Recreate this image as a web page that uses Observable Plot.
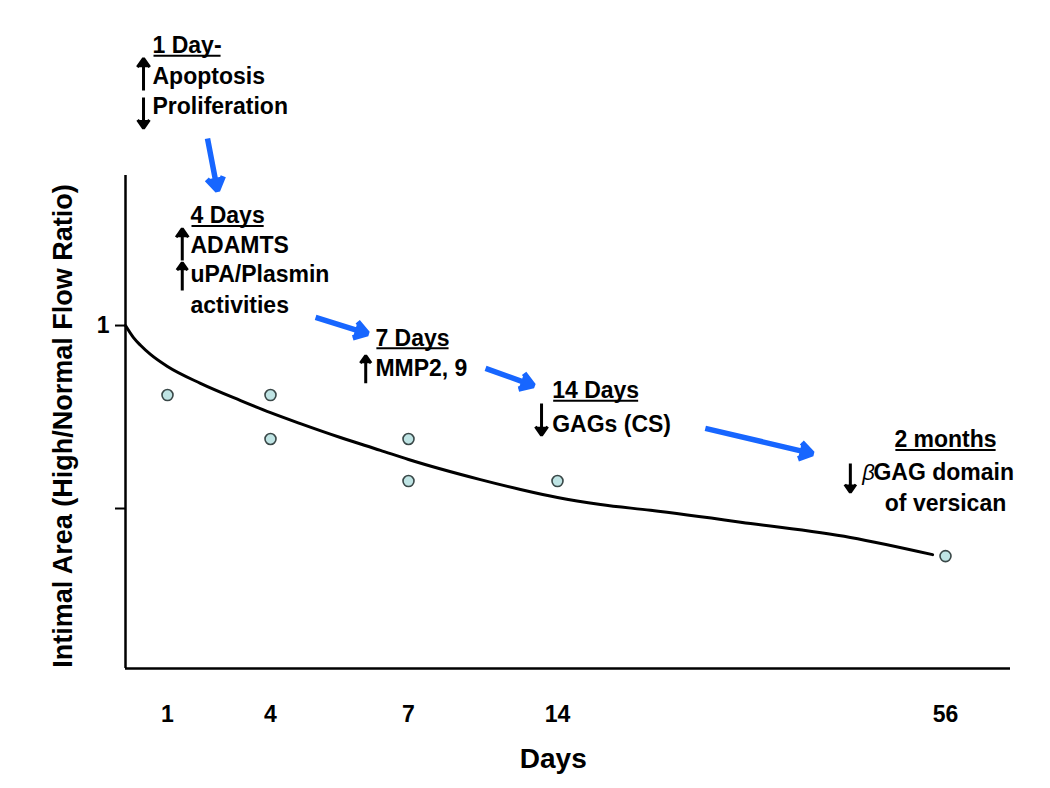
<!DOCTYPE html>
<html><head><meta charset="utf-8">
<script src="https://cdn.jsdelivr.net/npm/d3@7"></script>
<script src="https://cdn.jsdelivr.net/npm/@observablehq/plot@0.6"></script>
<style>body{margin:0;background:#fff}</style>
</head><body><div id="chart"></div>
<script>
// ---- data ----
const dayTicks = [1, 4, 7, 14, 56];
const obsDays  = [1, 4, 4, 7, 7, 14, 56];
const obsRatio = [0.81, 0.81, 0.69, 0.69, 0.575, 0.575, 0.37];
const fitDays  = [0, 0.19, 0.357, 0.595, 1, 1.96, 3.13, 4, 4.65, 5.52, 6.39, 7, 10.38, 12.26, 14, 18.65, 24.07, 34.9, 45.7, 54.6];
const fitRatio = [1.0, 0.967, 0.946, 0.921, 0.888, 0.842, 0.795, 0.762, 0.732, 0.694, 0.659, 0.634, 0.579, 0.552, 0.530, 0.511, 0.495, 0.459, 0.421, 0.374];
const ratioTicks = [0.5, 1];

// annotation texts and their anchors (day, ratio)
const headerText  = ["1 Day-", "4 Days", "7 Days", "14 Days"];
const headerDay   = [0.643, 1.67, 6.28, 13.75];
const headerRatio = [1.744, 1.279, 0.945, 0.801];
const bodyText  = ["Apoptosis", "Proliferation", "ADAMTS", "uPA/Plasmin", "activities", "MMP2, 9", "GAGs (CS)", "GAG domain"];
const bodyDay   = [0.643, 0.643, 1.67, 1.67, 1.67, 6.28, 13.75, 48.2];
const bodyRatio = [1.661, 1.579, 1.197, 1.118, 1.033, 0.861, 0.710, 0.577];
const centerText  = ["2 months", "of versican"];
const centerDay   = [56, 56];
const centerRatio = [0.667, 0.492];
const betaText = ["β"];
const betaDay = [47.0];
const betaRatio = [0.577];
// up/down change markers
const markDay  = [0.429, 0.429, 1.43, 1.43, 6.07, 13.25, 45.7];
const markFrom = [1.642, 1.623, 1.178, 1.096, 0.842, 0.787, 0.623];
const markTo   = [1.730, 1.539, 1.265, 1.172, 0.918, 0.700, 0.544];
// blue time-progression arrows
const stepDayFrom   = [2.165, 4.98, 10.62, 30.0];
const stepRatioFrom = [1.511, 1.022, 0.883, 0.719];
const stepDayTo     = [2.456, 6.11, 12.87, 41.6];
const stepRatioTo   = [1.369, 0.978, 0.836, 0.650];

const xLabel = "Days";
const yLabel = "Intimal Area (High/Normal Flow Ratio)";
const underlined = ["1 Day-", "4 Days", "7 Days", "14 Days", "2 months"];

// ---- tables ----
const obs = obsDays.map((d, i) => ({day: d, ratio: obsRatio[i]}));
const fit = fitDays.map((d, i) => ({day: d, ratio: fitRatio[i]}));
const headers = headerText.map((t, i) => ({t, day: headerDay[i], ratio: headerRatio[i]}));
const bodies = bodyText.map((t, i) => ({t, day: bodyDay[i], ratio: bodyRatio[i]}));
const centers = centerText.map((t, i) => ({t, day: centerDay[i], ratio: centerRatio[i]}));
const betas = betaText.map((t, i) => ({t, day: betaDay[i], ratio: betaRatio[i]}));
const marks = markDay.map((d, i) => ({day: d, from: markFrom[i], to: markTo[i]}));
const steps = stepDayFrom.map((d, i) => ({x1: d, y1: stepRatioFrom[i], x2: stepDayTo[i], y2: stepRatioTo[i]}));

const xDomain = [0, 1, 4, 7, 14, 56, 63];
const xRange  = [125, 167, 270, 408, 557, 945, 1010];
const yDomain = [0.0628, 1.41];
const font = "'Liberation Sans', Arial, Helvetica, sans-serif";

const chart = Plot.plot({
  width: 1050,
  height: 788,
  marginLeft: 125,
  marginRight: 40,
  marginTop: 175,
  marginBottom: 120,
  style: {fontFamily: font, fontSize: "23px", fontWeight: "bold", background: "white", color: "black"},
  x: {type: "linear", domain: xDomain, range: xRange, ticks: dayTicks, tickFormat: d => String(d), tickSize: 0, tickPadding: 37, label: null},
  y: {type: "linear", domain: yDomain, range: [668, 175], ticks: ratioTicks, tickFormat: d => d === 1 ? "1" : "", tickSize: 10, tickPadding: 6, label: null},
  marks: [
    Plot.ruleX([xDomain[0]], {y1: yDomain[0], y2: yDomain[1], strokeWidth: 2.5, stroke: "black"}),
    Plot.ruleY([yDomain[0]], {x1: xDomain[0], x2: xDomain[xDomain.length - 1], strokeWidth: 2.5, stroke: "black"}),
    Plot.line(fit, {x: "day", y: "ratio", curve: "monotone-x", stroke: "black", strokeWidth: 3}),
    Plot.dot(obs, {x: "day", y: "ratio", r: 5.5, fill: "#bfe4e4", stroke: "#3a4848", strokeWidth: 1.6}),
    Plot.arrow(steps, {x1: "x1", y1: "y1", x2: "x2", y2: "y2", stroke: "#1766ff", fill: "#1766ff", strokeWidth: 5.5, headLength: 4.2, headAngle: 66, strokeLinejoin: "miter", strokeLinecap: "butt"}),
    Plot.arrow(marks, {x1: "day", y1: "from", x2: "day", y2: "to", stroke: "black", fill: "black", strokeWidth: 3, headLength: 6, headAngle: 70, strokeLinejoin: "miter", strokeLinecap: "butt"}),
    Plot.text(headers, {x: "day", y: "ratio", text: "t", textAnchor: "start", lineAnchor: "bottom", fontSize: 23, fontWeight: "bold", fill: "black"}),
    Plot.text(centers, {x: "day", y: "ratio", text: "t", textAnchor: "middle", lineAnchor: "bottom", fontSize: 23, fontWeight: "bold", fill: "black"}),
    Plot.text(bodies, {x: "day", y: "ratio", text: "t", textAnchor: "start", lineAnchor: "bottom", fontSize: 23, fontWeight: "bold", fill: "black"}),
    Plot.text(betas, {x: "day", y: "ratio", text: "t", textAnchor: "start", lineAnchor: "bottom", fontSize: 22, fontWeight: "normal", fontStyle: "italic", fill: "black"}),
    Plot.text([xLabel], {x: 13.8, y: yDomain[0], text: d => d, dy: 99, lineAnchor: "bottom", textAnchor: "middle", fontSize: 28, fontWeight: "bold", fill: "black"}),
    Plot.text([yLabel], {frameAnchor: "left", text: d => d, rotate: -90, dx: -62, dy: 4, textAnchor: "middle", lineAnchor: "middle", fontSize: 27, fontWeight: "bold", fill: "black"})
  ]
});
document.getElementById("chart").appendChild(chart);

// underline the time-point headers (SVG text has no reliable underline)
d3.select(chart).selectAll("text").each(function() {
  if (!underlined.includes(this.textContent)) return;
  const b = this.getBBox();
  const baseline = b.y + 0.905 * (b.height / 1.149);
  d3.select(this.parentNode).append("line")
    .attr("transform", this.getAttribute("transform"))
    .attr("x1", b.x + 1).attr("x2", b.x + b.width - 1)
    .attr("y1", baseline + 3).attr("y2", baseline + 3)
    .attr("stroke", "black").attr("stroke-width", 2);
});
// thicker y tick marks
d3.select(chart).selectAll('g[aria-label="y-axis"] .tick line, g[aria-label="y-axis tick"] path').attr("stroke-width", 2).attr("stroke", "black");
</script>
</body></html>
